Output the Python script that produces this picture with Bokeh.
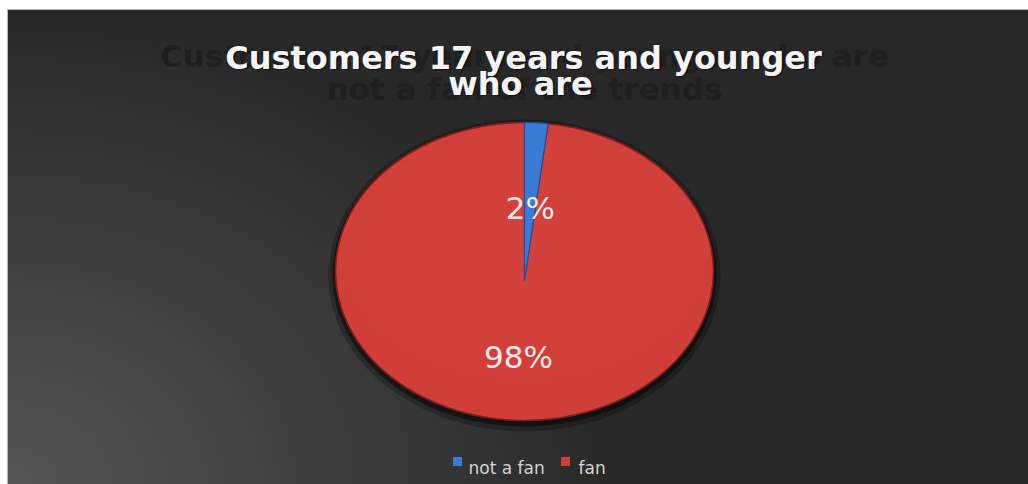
import numpy as np
from bokeh.plotting import figure
from bokeh.models import Range1d
from bokeh.core.properties import value
from bokeh.embed import file_html
from bokeh.resources import INLINE

# ---- data ----
categories = ["not a fan", "fan"]
shares = [2, 98]
slice_colors = ["#3a7bd5", "#cf3e39"]
slice_edges = ["#1d4f9c", "#8a2420"]
title_lines = ["Customers 17 years and younger", "who are"]
ghost_lines = ["Customers 17 years and younger who are", "not a fan of the trends"]

W, H = 1028, 484


def Y(py):
    return H - py


p = figure(width=W, height=H, x_range=Range1d(0, W), y_range=Range1d(0, H),
           output_backend="svg", toolbar_location=None,
           x_axis_location=None, y_axis_location=None, min_border=0)
p.grid.visible = False
p.outline_line_color = None
p.background_fill_color = "white"
p.border_fill_color = "white"

# ---- background gradient (chart area) ----
x0, y0 = 7, 9
bw, bh = W - x0, H - y0
nw, nh = bw // 2 + 1, bh // 2 + 1
ii = np.arange(nw)
jj = np.arange(nh)
px = x0 + (ii + 0.5) * bw / nw
py = H - (jj + 0.5) * bh / nh
PX, PY = np.meshgrid(px, py)
d = np.sqrt(((PX - x0) / 620.0) ** 2 + ((PY - H) / 480.0) ** 2)
v = 0x28 + 0x2e * np.clip(1 - d, 0, 1)
img = np.zeros((nh, nw), dtype=np.uint32)
view = img.view(dtype=np.uint8).reshape((nh, nw, 4))
view[:, :, 0] = v.astype(np.uint8)
view[:, :, 1] = v.astype(np.uint8)
view[:, :, 2] = v.astype(np.uint8)
view[:, :, 3] = 255
p.image_rgba(image=[img], x=x0, y=0, dw=bw, dh=bh)
p.quad(left=x0, right=W, bottom=0, top=Y(y0), fill_color=None,
       line_color="#b4b4b4", line_width=1)

# ---- ghost title (dark, behind) ----
p.text(x=[524, 524], y=[Y(55), Y(88)], text=ghost_lines,
       text_font=value("DejaVu Sans"), text_font_style="bold", text_font_size="31px",
       text_color="#1f1f1f", text_align="center", text_baseline="alphabetic")

# ---- main title ----
p.text(x=[524.5, 521.5], y=[Y(58.5), Y(84.5)], text=title_lines,
       text_font=value("DejaVu Sans"), text_font_style="bold", text_font_size="32px",
       text_color="black", text_alpha=0.5, text_align="center", text_baseline="alphabetic")
p.text(x=[523, 520], y=[Y(57), Y(83)], text=title_lines,
       text_font=value("DejaVu Sans"), text_font_style="bold", text_font_size="32px",
       text_color="#f4f4f4", text_align="center", text_baseline="alphabetic")

# ---- pie geometry ----
cx, cy = 524, 271        # ellipse centre (pixels)
rx, ry = 189, 149
ax_, ay_ = 524, 280      # apex (pixels)

# shadow
p.ellipse(x=[cx], y=[Y(cy + 4)], width=2 * rx + 14, height=2 * ry + 14,
          fill_color="black", fill_alpha=0.25, line_color=None)
p.ellipse(x=[cx], y=[Y(cy + 3)], width=2 * rx + 6, height=2 * ry + 6,
          fill_color="black", fill_alpha=0.45, line_color=None)

total = float(sum(shares))
fr = np.array(shares) / total
starts = np.concatenate([[0.0], np.cumsum(fr)[:-1]]) * 2 * np.pi
ends = np.cumsum(fr) * 2 * np.pi


def slice_poly(t0, t1):
    t = np.linspace(t0, t1, max(8, int((t1 - t0) / (2 * np.pi) * 360)))
    xs = [ax_] + list(cx + rx * np.sin(t))
    ys = [Y(ay_)] + list(Y(cy - ry * np.cos(t)))
    return xs, ys


polys = [slice_poly(s, e) for s, e in zip(starts, ends)]

# red (large) slice first, then soft highlight, then small slice on top
order = [1, 0]
for k in order:
    xs, ys = polys[k]
    p.patch(x=xs, y=ys, fill_color=slice_colors[k], line_color=slice_edges[k],
            line_width=1.2)
    if k == 1:
        for (dy, shrink_w, shrink_h, a) in [(-40, 60, 120, 0.035), (-30, 30, 80, 0.035),
                                            (-20, 10, 40, 0.035)]:
            p.ellipse(x=[cx], y=[Y(cy + dy)], width=2 * rx - shrink_w,
                      height=2 * ry - shrink_h, fill_color="#ff7a6a",
                      fill_alpha=a, line_color=None)
        p.ellipse(x=[cx], y=[Y(cy)], width=2 * rx, height=2 * ry,
                  fill_color=None, line_color="#7a1c1a", line_width=1.5, line_alpha=0.8)

# ---- percentage labels ----
mids = (starts + ends) / 2
lab_x = cx + rx * 0.5 * np.sin(mids)
lab_y = cy - ry * 0.5 * np.cos(mids)
labels = [f"{s}%" for s in shares]
p.text(x=list(lab_x), y=list(Y(lab_y + 11)), text=labels,
       text_font=value("DejaVu Sans"), text_font_size="31px",
       text_color="#f6e9e7", text_align="center", text_baseline="alphabetic")

# ---- legend (manual) ----
leg_marker_x = [457, 565]
leg_text_x = [468, 578]
leg_y = 461
p.scatter(x=leg_marker_x, y=[Y(leg_y)] * 2, marker="square", size=9,
          fill_color=slice_colors, line_color=None)
p.text(x=leg_text_x, y=[Y(leg_y + 6)] * 2, text=categories,
       text_font=value("DejaVu Sans"), text_font_size="17px",
       text_color="#d4d4d4", text_align="left", text_baseline="alphabetic")

open("out.html", "w").write(file_html(p, INLINE))
